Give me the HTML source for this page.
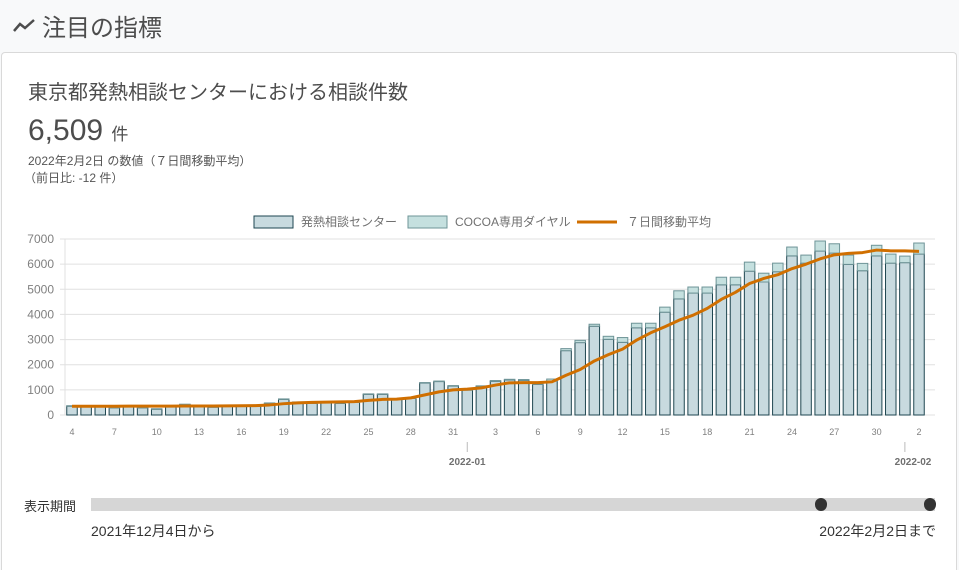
<!DOCTYPE html>
<html style="overflow:hidden;height:570px"><head><meta charset="utf-8">
<style>
body{margin:0;width:959px;height:570px;overflow:hidden;background:#f8f9fa;font-family:"Liberation Sans","Noto Sans CJK JP",sans-serif;color:#4d4d4d;position:relative}
.hdr{position:absolute;left:12px;top:8px;font-size:24px;color:#4d4d4d;display:flex;align-items:center}
.card{position:absolute;left:1px;top:52px;width:956px;height:518px;background:#fff;border:1px solid #d9d9d9;border-bottom:none;border-radius:4px 4px 0 0;box-sizing:border-box}
.abs{position:absolute;white-space:nowrap}
</style></head><body>
<div class="hdr">
<svg width="26" height="20"><polyline points="2,15 8,8 13,12 22,4" fill="none" stroke="#4d4d4d" stroke-width="2.5"/></svg>
<span style="margin-left:4px">注目の指標</span></div>
<div class="card"></div>
<div class="abs" style="left:28px;top:76px;font-size:20px;color:#4d4d4d">東京都発熱相談センターにおける相談件数</div>
<div class="abs" style="left:28px;top:114px;font-size:30px;color:#4d4d4d">6,509 <span style="font-size:17px">件</span></div>
<div class="abs" style="left:28px;top:152px;font-size:12px;color:#555">2022年2月2日 の数値（７日間移動平均）</div>
<div class="abs" style="left:24px;top:169px;font-size:12px;color:#555">（前日比: -12 件）</div>

<svg id="chart" class="abs" style="left:0;top:0" width="959" height="480"></svg>

<div class="abs" style="left:24px;top:496px;font-size:13px;color:#333">表示期間</div>
<div class="abs" style="left:91px;top:498px;width:844px;height:13px;background:#d6d6d6"></div>
<div class="abs" style="left:815px;top:498px;width:12px;height:13px;border-radius:6px;background:#333"></div>
<div class="abs" style="left:924px;top:498px;width:12px;height:13px;border-radius:6px;background:#333"></div>
<div class="abs" style="left:91px;top:521px;font-size:14px;color:#333">2021年12月4日から</div>
<div class="abs" style="right:23px;top:521px;font-size:14px;color:#333">2022年2月2日まで</div>

<script>
const dayLabels=[4,5,6,7,8,9,10,11,12,13,14,15,16,17,18,19,20,21,22,23,24,25,26,27,28,29,30,31,1,2,3,4,5,6,7,8,9,10,11,12,13,14,15,16,17,18,19,20,21,22,23,24,25,26,27,28,29,30,31,1,2];
const centerVals=[350,340,340,280,340,280,230,340,410,340,310,340,340,340,460,620,500,460,500,460,500,820,820,620,660,1270,1330,1150,990,1140,1340,1390,1380,1220,1350,2560,2880,3530,3010,2890,3470,3470,4090,4620,4850,4850,5180,5180,5720,5290,5700,6330,6040,6520,6440,5990,5740,6330,6040,6060,6400];
const cocoaVals=[20,20,20,20,20,20,20,20,20,20,20,20,20,20,20,20,20,20,20,20,20,20,20,20,20,20,20,20,20,20,30,30,30,20,80,80,90,80,120,190,180,180,200,320,240,240,300,300,360,350,340,350,320,400,370,370,290,420,360,260,440];
const avgVals=[350,350,350,350,355,355,355,355,360,360,360,365,370,375,400,450,480,500,510,520,530,580,620,630,680,800,920,1000,1030,1080,1190,1280,1290,1290,1320,1580,1810,2150,2400,2620,2980,3270,3510,3770,3970,4240,4600,4880,5230,5430,5580,5820,6000,6210,6370,6430,6460,6560,6530,6530,6509];
const yTicks=[0,1000,2000,3000,4000,5000,6000,7000];
const NS="http://www.w3.org/2000/svg";
const svg=document.getElementById('chart');
const X0=72,DX=(919-72)/60,Y0=415,YS=(415-239)/7000;
const x=i=>X0+i*DX, y=v=>Y0-v*YS;
function mk(t,a){const e=document.createElementNS(NS,t);for(const k in a)e.setAttribute(k,a[k]);svg.appendChild(e);return e;}
yTicks.forEach(v=>{
  const g=mk('line',{x1:60,x2:935,y1:y(v),y2:y(v),stroke:'#e0e0e0','stroke-width':1});
  
  
  const t=mk('text',{x:54,y:y(v)+4,'text-anchor':'end','font-size':12,fill:'#808080'});
  t.textContent=v;
  
  
});
mk('line',{x1:65,x2:65,y1:239,y2:415,stroke:'#e0e0e0'});
dayLabels.forEach((d,i)=>{
  const c=centerVals[i],k=cocoaVals[i],bw=10.5;
  const b1=mk('rect',{x:x(i)-bw/2,y:y(c),width:bw,height:c*YS,fill:'#c8dadf',stroke:'#1e4650','stroke-width':1});
  
  
  const b2=mk('rect',{x:x(i)-bw/2,y:y(c+k),width:bw,height:k*YS,fill:'#c5e0df',stroke:'#6e9497','stroke-width':1});
  
  
  if(i%3===0){
    const t=mk('text',{x:x(i),y:435,'text-anchor':'middle','font-size':9,fill:'#808080'});
    t.textContent=d;
    
    
  }
});
const line=mk('polyline',{points:avgVals.map((v,i)=>x(i)+','+y(v)).join(' '),fill:'none',stroke:'#d06f00','stroke-width':3,'stroke-linejoin':'round'});


[[28,'2022-01'],[59,'2022-02']].forEach(([i,s])=>{
  mk('line',{x1:x(i),x2:x(i),y1:442,y2:452,stroke:'#bbb'});
  const t=mk('text',{x:i===59?913:x(i),y:465,'text-anchor':'middle','font-size':10,'font-weight':'bold',fill:'#707070'});
  t.textContent=s;
  
  
});
const lg=[[254,'#c8dadf','#1e4650','発熱相談センター',301],[408,'#c5e0df','#6e9497','COCOA専用ダイヤル',455]];
lg.forEach(([lx,f,s,txt,tx])=>{
  const r=mk('rect',{x:lx,y:216,width:39,height:12,fill:f,stroke:s});
  
  
  const t=mk('text',{x:tx,y:226,'font-size':12,fill:'#707070'});
  t.textContent=txt;
  
  
});
const ll=mk('line',{x1:577,x2:617,y1:222,y2:222,stroke:'#d06f00','stroke-width':3});


const lt=mk('text',{x:627,y:226,'font-size':12,fill:'#707070'});
lt.textContent='７日間移動平均';


</script>
</body></html>
